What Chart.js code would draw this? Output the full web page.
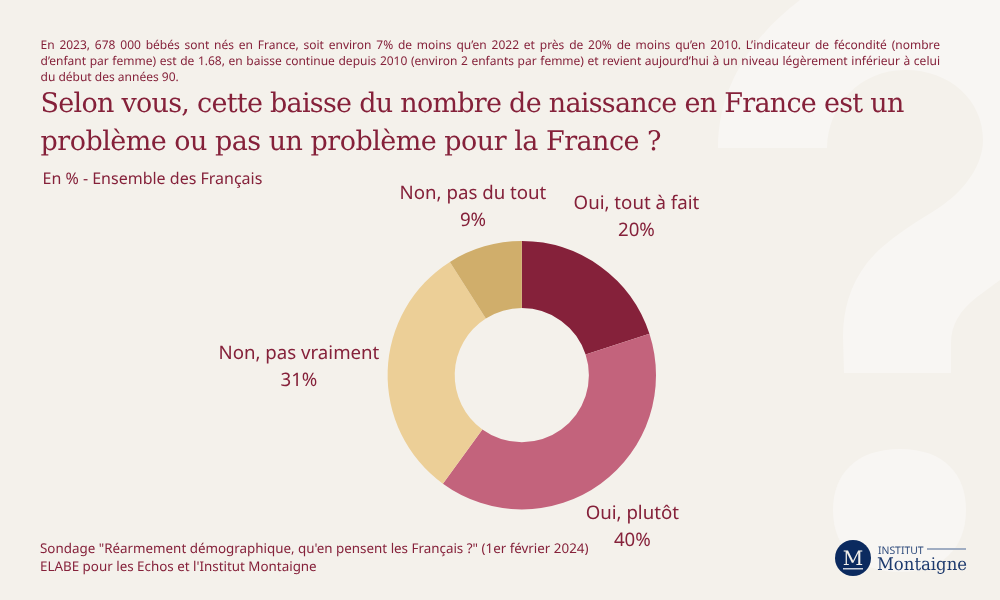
<!DOCTYPE html>
<html lang="fr"><head><meta charset="utf-8">
<script src="https://cdn.jsdelivr.net/npm/chart.js@4"></script>
<style>
html,body{margin:0;padding:0;background:#F4F1EB;}
#page{position:relative;width:1000px;height:600px;overflow:hidden;background:#F4F1EB;color:#85213A;font-family:"Noto Sans",sans-serif;text-rendering:geometricPrecision;}
#page>*{position:absolute;}
#bg{left:0;top:0;}
#chart{left:0;top:0;width:1000px;height:600px;}
#intro{left:40.5px;top:37px;width:899.5px;font-size:12px;line-height:16px;text-align:justify;}
#title{left:40.5px;top:85px;width:920px;font-family:"DejaVu Serif",serif;font-size:27px;line-height:38px;white-space:nowrap;}
#t1{letter-spacing:-0.73px;}
#t2{letter-spacing:-0.52px;}
#sub{left:42.5px;top:168px;font-size:16px;line-height:20px;white-space:nowrap;}
#foot{left:40px;top:540px;font-size:13.38px;line-height:17.6px;white-space:nowrap;}
</style></head><body>
<div id="page">
<svg id="bg" width="1000" height="600"><g fill="#F8F6F3">
<path d="M718 148H827C828 105 860 70 905 70C950 70 983 100 983 140C983 165 965 190 940 207C920 220 885 240 867 263C850 285 843 310 843 337L844 373H951V343C951 325 960 310 977 297L1000 280V0H800C760 30 718 80 718 148Z"/>
<path d="M900 449C945 449 966 475 966 510C966 550 940 572 900 572C860 572 833 550 833 510C833 475 855 449 900 449Z"/>
</g></svg>
<canvas id="chart" width="1000" height="600"></canvas>
<div id="intro">En 2023, 678 000 bébés sont nés en France, soit environ 7% de moins qu’en 2022 et près de 20% de moins qu’en 2010. L’indicateur de fécondité (nombre d’enfant par femme) est de 1.68, en baisse continue depuis 2010 (environ 2 enfants par femme) et revient aujourd’hui à un niveau légèrement inférieur à celui du début des années 90.</div>
<div id="title"><span id="t1">Selon vous, cette baisse du nombre de naissance en France est un</span><br><span id="t2">problème ou pas un problème pour la France ?</span></div>
<div id="sub">En % - Ensemble des Français</div>
<div id="foot">Sondage "Réarmement démographique, qu'en pensent les Français ?" (1er février 2024)<br>ELABE pour les Echos et l'Institut Montaigne</div>
<svg id="logo" style="left:830px;top:535px" width="150" height="50">
<circle cx="23" cy="23" r="18" fill="#0B2A5F"/>
<text x="23" y="30" text-anchor="middle" font-family="DejaVu Serif" font-size="20" fill="#F3F0EA">M</text>
<rect x="13" y="33" width="20" height="1.5" fill="#C9CFDA"/>
<text x="48" y="18.5" font-family="Noto Sans" font-size="10.4" fill="#2F4B7C">INSTITUT</text>
<rect x="97" y="13" width="39" height="2" fill="#A0ADC2"/>
<text x="47" y="35" font-family="DejaVu Serif" font-size="17.5" textLength="90" lengthAdjust="spacingAndGlyphs" fill="#1D3A6E">Montaigne</text>
</svg>
</div>
<script>
const categories = ["Oui, tout à fait", "Oui, plutôt", "Non, pas vraiment", "Non, pas du tout"];
const values = [20, 40, 31, 9];
const colors = ["#85213A", "#C3637C", "#ECCF97", "#D0AE6B"];
const labelRadius = [195, 188, 223, 175];
const labelShiftY = [0, 0, -1, 0];

const sliceLabels = {
  id: "sliceLabels",
  afterDatasetsDraw(chart) {
    const ctx = chart.ctx;
    const arcs = chart.getDatasetMeta(0).data;
    ctx.save();
    ctx.fillStyle = "#85213A";
    ctx.font = '18.67px "Noto Sans"';
    ctx.textRendering = "geometricPrecision";
    ctx.textAlign = "center";
    ctx.textBaseline = "middle";
    arcs.forEach((arc, i) => {
      const mid = (arc.startAngle + arc.endAngle) / 2;
      const x = arc.x + Math.cos(mid) * labelRadius[i];
      const y = arc.y + Math.sin(mid) * labelRadius[i] + labelShiftY[i];
      ctx.fillText(categories[i], x, y - 13.3);
      ctx.fillText(values[i] + "%", x, y + 13.3);
    });
    ctx.restore();
  }
};

new Chart(document.getElementById("chart"), {
  type: "doughnut",
  data: { labels: categories, datasets: [{ data: values, backgroundColor: colors, borderWidth: 0 }] },
  options: {
    responsive: false,
    animation: false,
    cutout: "50%",
    layout: { padding: { left: 387.6, right: 344, top: 241, bottom: 90.6 } },
    plugins: { legend: { display: false }, tooltip: { enabled: false } }
  },
  plugins: [sliceLabels]
});
</script>
</body></html>
